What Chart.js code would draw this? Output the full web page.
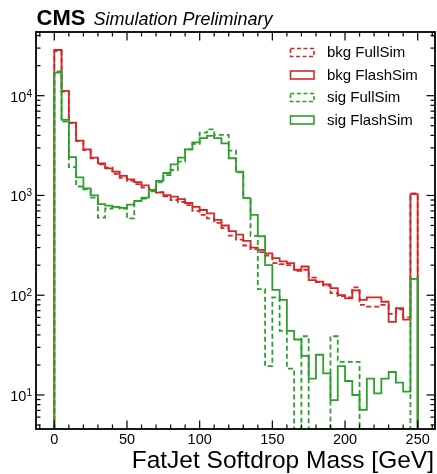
<!DOCTYPE html>
<html>
<head>
<meta charset="utf-8">
<script src="https://cdn.jsdelivr.net/npm/chart.js@4.4.0/dist/chart.umd.min.js"></script>
<style>
  html, body { margin: 0; padding: 0; background: #fff; }
</style>
</head>
<body>
<canvas id="massChart" width="437" height="474"></canvas>
<script>
// 5 GeV bins from 0 to 250 (last bin holds the overflow)
const binEdges = [0, 5, 10, 15, 20, 25, 30, 35, 40, 45, 50, 55, 60, 65, 70, 75, 80, 85, 90, 95,
    100, 105, 110, 115, 120, 125, 130, 135, 140, 145, 150, 155, 160, 165, 170, 175, 180, 185, 190, 195,
    200, 205, 210, 215, 220, 225, 230, 235, 240, 245, 250];

const bkgFullSim = [28000, 11000, 5300, 3500, 2850, 2350, 2050, 1900, 1650, 1500,
    1400, 1300, 1200, 1150, 1080, 980, 900, 860, 800, 700,
    640, 590, 530, 470, 395, 360, 315, 290, 270, 250,
    210, 205, 200, 175, 180, 150, 135, 125, 105, 98,
    95, 120, 80, 77, 77, 80, 65, 72, 60, 1050];
const bkgFlashSim = [28700, 11200, 5370, 3540, 2900, 2390, 2100, 1870, 1730, 1570,
    1450, 1360, 1260, 1140, 1070, 1010, 975, 920, 840, 770,
    715, 660, 570, 500, 440, 405, 350, 300, 285, 263,
    235, 218, 210, 180, 194, 142, 137, 128, 118, 100,
    93, 112, 90, 95, 95, 86, 54, 74, 57, 1030];
const sigFullSim = [17500, 5500, 1920, 1230, 1150, 950, 600, 740, 760, 740,
    590, 880, 930, 1100, 1350, 1600, 1800, 2180, 2900, 3300,
    4260, 4600, 4040, 4040, 2820, 1700, 940, 394, 115, 19.5,
    95, 44, 18.4, 0, 38.8, 0, 0, 0, 38.8, 21.5,
    21.5, 21.5, 0, 0, 0, 0, 0, 0, 0, 146];
const sigFlashSim = [17000, 5710, 2420, 1520, 1180, 1000, 820, 790, 770, 750,
    810, 880, 950, 1140, 1400, 1680, 2050, 2400, 2900, 3400,
    3750, 3950, 3750, 3330, 2360, 1730, 940, 640, 390, 200,
    113, 90, 44, 36, 24.7, 14.6, 25.3, 16.5, 8.9, 19.5,
    13.8, 10, 7.1, 14.6, 10.4, 14.6, 17, 13.3, 10.8, 146];

const xTicks = [0, 50, 100, 150, 200, 250];
const yTickExps = [1, 2, 3, 4];

const X_MIN = -12.6, X_MAX = 261.9;
const Y_MIN = 4.56, Y_MAX = 43500;

const RED = '#d62728';
const GREEN = '#2ca02c';
const FONT = '"Liberation Sans", Arial, Helvetica, sans-serif';

// histogram outline: rise at the first edge, step through the bins, drop at the last edge
function histPoints(vals) {
    const pts = [{ x: binEdges[0], y: Y_MIN }];
    vals.forEach((v, i) => pts.push({ x: binEdges[i], y: v > 0 ? v : Y_MIN }));
    pts.push({ x: binEdges[binEdges.length - 1], y: Y_MIN });
    return pts;
}

function histDataset(label, vals, color, dashed) {
    return {
        label: label,
        data: histPoints(vals),
        borderColor: color,
        borderWidth: 1.8,
        borderDash: dashed ? [5, 3] : [],
        fill: false,
        pointRadius: 0,
        stepped: 'before',
        tension: 0
    };
}

const legendItems = [
    { label: 'bkg FullSim', color: RED, dashed: true },
    { label: 'bkg FlashSim', color: RED, dashed: false },
    { label: 'sig FullSim', color: GREEN, dashed: true },
    { label: 'sig FlashSim', color: GREEN, dashed: false }
];

// frame, inward ticks, labels, legend and CMS header
const decorations = {
    id: 'decorations',
    afterDatasetsDraw(chart) {
        const { ctx, chartArea: a, scales: { x, y } } = chart;
        ctx.save();
        ctx.strokeStyle = '#000';
        ctx.fillStyle = '#000';

        const seg = (x1, y1, x2, y2) => {
            ctx.beginPath();
            ctx.moveTo(x1, y1);
            ctx.lineTo(x2, y2);
            ctx.stroke();
        };

        // ticks
        ctx.lineWidth = 1.2;
        for (let v = -10; v <= 260; v += 10) {
            const px = x.getPixelForValue(v);
            const len = v % 50 === 0 ? 8.5 : 4.5;
            seg(px, a.bottom, px, a.bottom - len);
            seg(px, a.top, px, a.top + len);
        }
        for (let e = 0; e <= 4; e++) {
            for (let m = 1; m <= 9; m++) {
                const v = m * Math.pow(10, e);
                if (v < Y_MIN || v > Y_MAX) continue;
                const py = y.getPixelForValue(v);
                const len = m === 1 ? 8.5 : 4.5;
                seg(a.left, py, a.left + len, py);
                seg(a.right, py, a.right - len, py);
            }
        }

        // frame
        ctx.lineWidth = 1.8;
        ctx.strokeRect(a.left, a.top, a.right - a.left, a.bottom - a.top);

        // x tick labels
        ctx.font = '14.5px ' + FONT;
        ctx.textAlign = 'center';
        ctx.textBaseline = 'alphabetic';
        xTicks.forEach(v => ctx.fillText(String(v), x.getPixelForValue(v), 443.5));

        // y tick labels 10^n
        yTickExps.forEach(e => {
            const py = y.getPixelForValue(Math.pow(10, e));
            ctx.textAlign = 'right';
            ctx.font = '10px ' + FONT;
            ctx.fillText(String(e), 32, py + 1);
            ctx.font = '14.5px ' + FONT;
            ctx.fillText('10', 26.3, py + 6);
        });

        // axis title
        ctx.font = '24.5px ' + FONT;
        ctx.textAlign = 'right';
        ctx.fillText('FatJet Softdrop Mass [GeV]', 434, 468);

        // CMS label
        ctx.textAlign = 'left';
        ctx.font = 'bold 22px ' + FONT;
        ctx.fillText('CMS', 36.5, 25);
        ctx.font = 'italic 18px ' + FONT;
        ctx.fillText('Simulation Preliminary', 93.5, 25);

        // legend
        ctx.font = '15px ' + FONT;
        ctx.textBaseline = 'middle';
        legendItems.forEach((item, i) => {
            const cy = 52.5 + i * 22.5;
            ctx.strokeStyle = item.color;
            ctx.lineWidth = 1.6;
            ctx.setLineDash(item.dashed ? [4, 2.5] : []);
            ctx.strokeRect(290.5, cy - 4, 23.5, 8);
            ctx.setLineDash([]);
            ctx.fillStyle = '#000';
            ctx.fillText(item.label, 327, cy + 0.5);
        });

        ctx.restore();
    }
};

const ctx = document.getElementById('massChart').getContext('2d');
const massChart = new Chart(ctx, {
    type: 'line',
    data: {
        datasets: [
            histDataset('sig FlashSim', sigFlashSim, GREEN, false),
            histDataset('sig FullSim', sigFullSim, GREEN, true),
            histDataset('bkg FlashSim', bkgFlashSim, RED, false),
            histDataset('bkg FullSim', bkgFullSim, RED, true)
        ]
    },
    options: {
        responsive: false,
        animation: false,
        events: [],
        layout: { padding: { left: 36, right: 2, top: 32, bottom: 45 } },
        plugins: {
            legend: { display: false },
            tooltip: { enabled: false }
        },
        scales: {
            x: { type: 'linear', min: X_MIN, max: X_MAX, display: false },
            y: { type: 'logarithmic', min: Y_MIN, max: Y_MAX, display: false }
        }
    },
    plugins: [decorations]
});
</script>
</body>
</html>
